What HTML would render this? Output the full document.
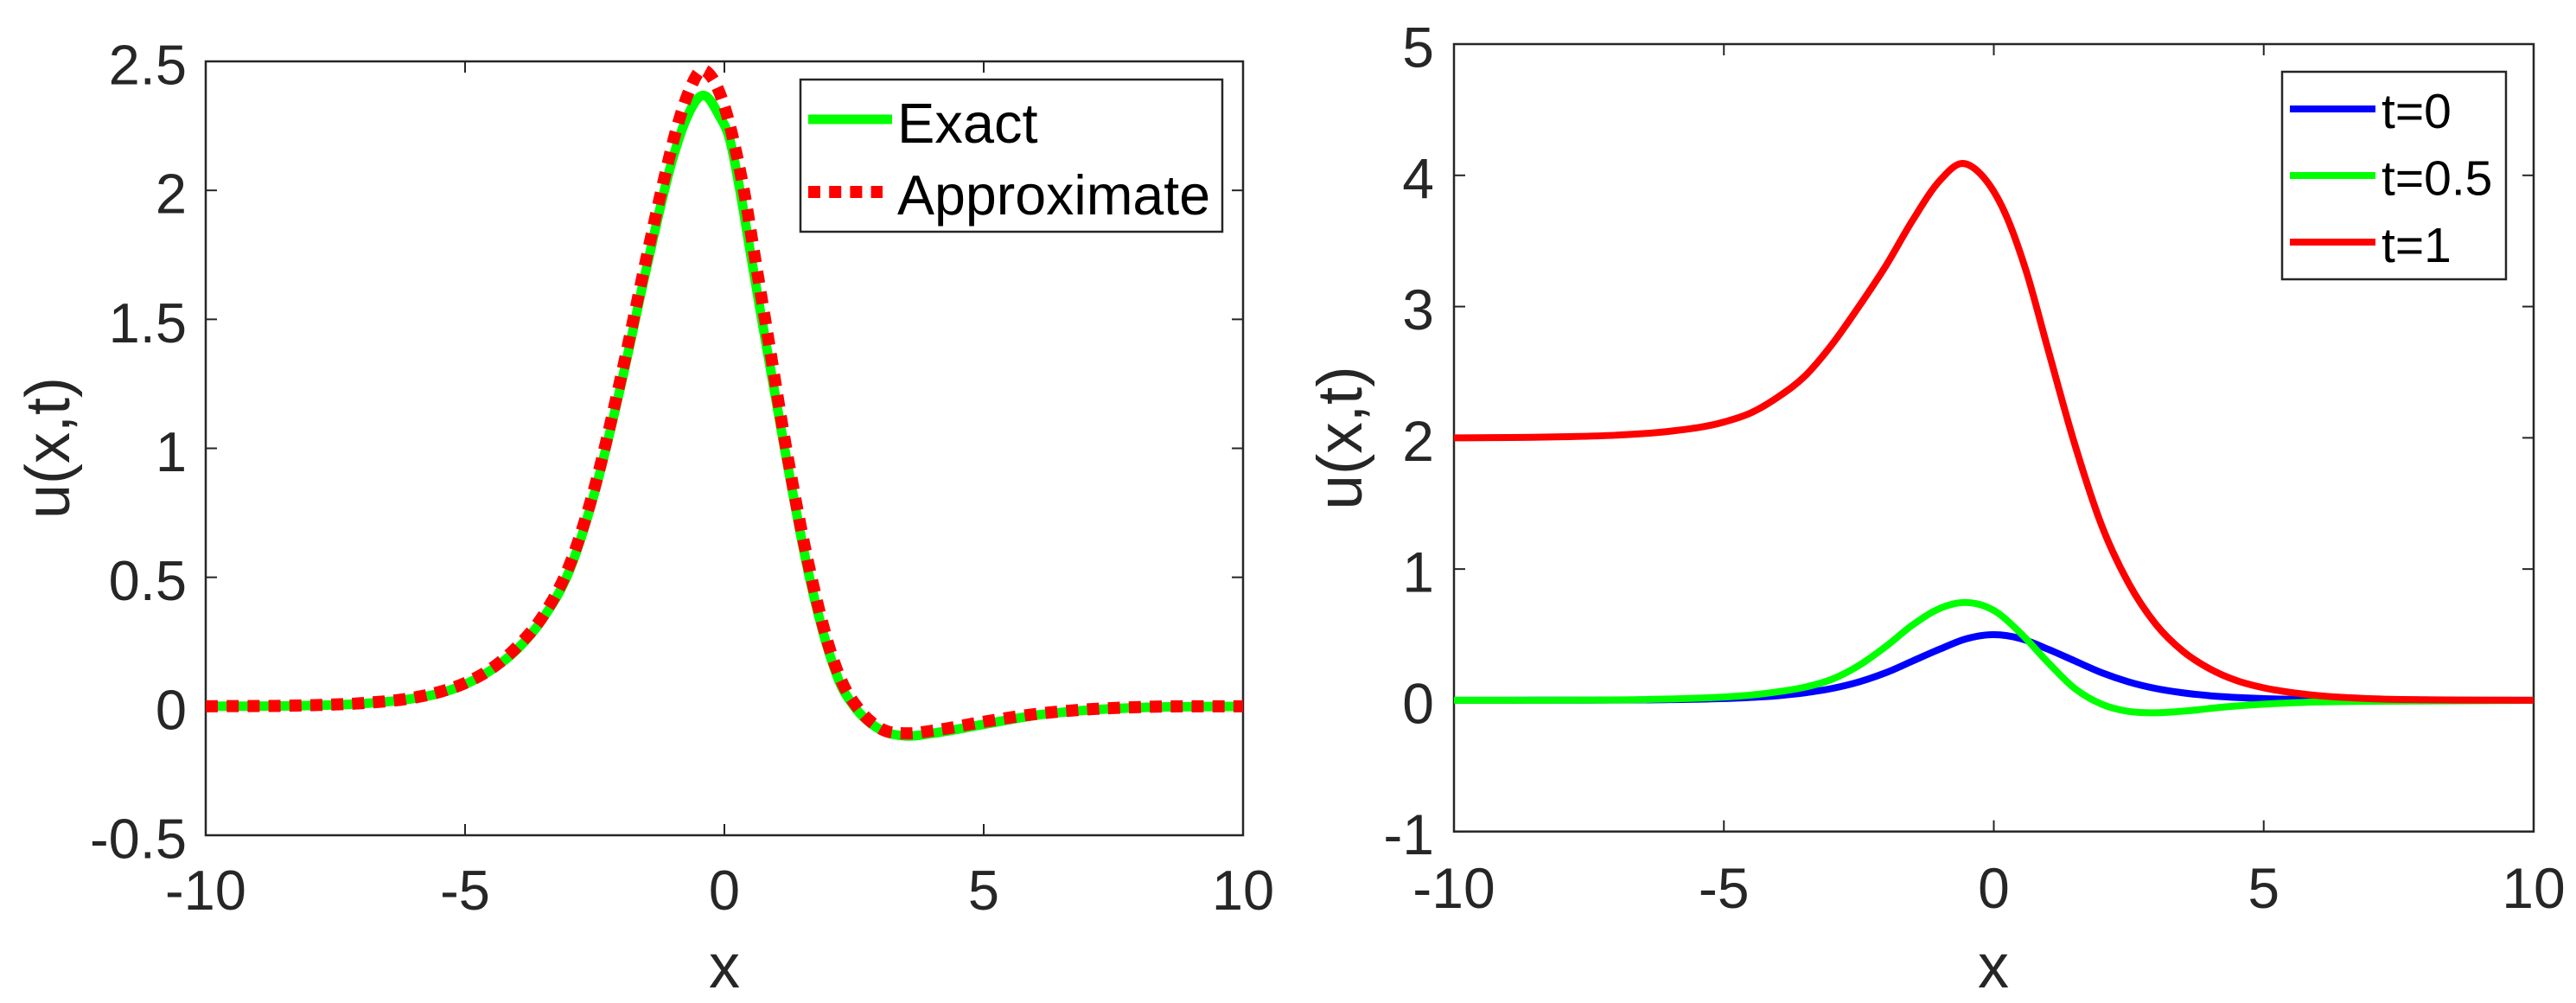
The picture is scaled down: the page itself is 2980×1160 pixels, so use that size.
<!DOCTYPE html>
<html lang="en">
<head>
<meta charset="utf-8">
<title>u(x,t) comparison charts</title>
<style>
html,body{margin:0;padding:0;background:#fff;}
body{width:2980px;height:1160px;overflow:hidden;}
svg{display:block;}
text{font-family:"Liberation Sans",Arial,sans-serif;}
.tick{font-size:65px;fill:#262626;}
.title{font-size:72px;fill:#262626;}
</style>
</head>
<body>
<svg id="root" xmlns="http://www.w3.org/2000/svg" width="2980" height="1160" viewBox="0 0 2980 1160">
  <defs>
    <clipPath id="clip-left"><rect x="238" y="71" width="1200" height="895"/></clipPath>
    <clipPath id="clip-right"><rect x="1682" y="51" width="1249" height="911"/></clipPath>
  </defs>
  <rect x="0" y="0" width="2980" height="1160" fill="#fff"/>

  <g id="left-chart">
    <g id="left-axes"></g>
    <g id="left-series" clip-path="url(#clip-left)"></g>
    <text class="title" x="838" y="1142" text-anchor="middle">x</text>
    <text class="title" transform="translate(80,518) rotate(-90)" text-anchor="middle">u(x,t)</text>
    <g>
      <rect x="926" y="92" width="488" height="176" fill="#fff" stroke="#262626" stroke-width="2.5"/>
      <line x1="935" x2="1032" y1="138" y2="138" stroke="#00ff00" stroke-width="11"/>
      <text x="1038" y="165" font-size="65" fill="#000">Exact</text>
      <line x1="935" x2="1021" y1="222" y2="222" stroke="#ff0000" stroke-width="14" stroke-dasharray="14 10.2"/>
      <text x="1038" y="248" font-size="64.5" fill="#000">Approximate</text>
    </g>
  </g>

  <g id="right-chart">
    <g id="right-axes"></g>
    <g id="right-series" clip-path="url(#clip-right)"></g>
    <text class="title" x="2306" y="1142" text-anchor="middle">x</text>
    <text class="title" transform="translate(1575,506.5) rotate(-90)" text-anchor="middle" style="font-size:73px">u(x,t)</text>
    <g>
      <rect x="2640" y="83" width="259" height="240" fill="#fff" stroke="#262626" stroke-width="2.5"/>
      <line x1="2649" x2="2748" y1="126" y2="126" stroke="#0000ff" stroke-width="8"/>
      <text x="2755" y="148" font-size="57" fill="#000">t=0</text>
      <line x1="2649" x2="2748" y1="203" y2="203" stroke="#00ff00" stroke-width="8"/>
      <text x="2755" y="225.5" font-size="57" fill="#000">t=0.5</text>
      <line x1="2649" x2="2748" y1="280" y2="280" stroke="#ff0000" stroke-width="8"/>
      <text x="2755" y="303" font-size="57" fill="#000">t=1</text>
    </g>
  </g>
</svg>

<script>
// ---- left chart data ----
const leftXTicks = [-10, -5, 0, 5, 10];
const leftYTicks = [-0.5, 0, 0.5, 1, 1.5, 2, 2.5];
const leftYTickLabels = ['-0.5', '0', '0.5', '1', '1.5', '2', '2.5'];
const exactX = [-10, -8, -7, -6, -5.5, -5, -4.5, -4, -3.5, -3, -2.5, -2, -1.5, -1, -0.75, -0.4, -0.1, 0.1, 0.3, 0.5, 0.72, 1.16, 1.64, 2.0, 2.25, 2.5, 3, 3.5, 4, 5, 6, 7, 8, 10];
const exactU = [0, 0.003, 0.01, 0.03, 0.05, 0.085, 0.14, 0.22, 0.34, 0.52, 0.83, 1.24, 1.7, 2.12, 2.27, 2.368, 2.29, 2.2, 2.0, 1.76, 1.5, 1.0, 0.5, 0.22, 0.08, 0, -0.09, -0.115, -0.105, -0.07, -0.035, -0.015, -0.005, 0];
const approxX = [-10, -8, -7, -6, -5.5, -5, -4.5, -4, -3.5, -3, -2.5, -2, -1.5, -1.19, -0.92, -0.67, -0.46, -0.25, -0.007, 0.267, 0.42, 0.54, 0.85, 1.2, 1.7, 2.05, 2.3, 2.55, 3, 3.55, 4, 5, 6, 7, 8, 10];
const approxU = [0, 0.004, 0.012, 0.033, 0.055, 0.09, 0.145, 0.23, 0.35, 0.54, 0.85, 1.27, 1.74, 2.02, 2.24, 2.39, 2.464, 2.44, 2.33, 2.11, 1.95, 1.8, 1.42, 0.99, 0.48, 0.21, 0.08, 0, -0.085, -0.105, -0.095, -0.06, -0.03, -0.012, -0.003, 0];

// ---- right chart data ----
const rightXTicks = [-10, -5, 0, 5, 10];
const rightYTicks = [-1, 0, 1, 2, 3, 4, 5];
const t0X = [-10, -8, -6, -5, -4, -3.5, -3, -2.5, -2, -1.5, -1, -0.5, 0, 0.5, 1, 1.5, 2, 2.5, 3, 3.5, 4, 5, 6, 8, 10];
const t0U = [0, 0.001, 0.005, 0.013, 0.035, 0.057, 0.09, 0.14, 0.21, 0.30, 0.39, 0.47, 0.5, 0.47, 0.39, 0.30, 0.21, 0.14, 0.09, 0.057, 0.035, 0.013, 0.005, 0.001, 0];
const t05X = [-10, -8, -6, -5, -4.5, -4, -3.5, -3, -2.5, -2, -1.5, -1, -0.49, 0, 0.5, 1, 1.5, 2, 2.5, 2.9, 3.5, 4.3, 5.6, 7.2, 8.6, 10];
const t05U = [0, 0.001, 0.01, 0.025, 0.04, 0.065, 0.1, 0.16, 0.265, 0.41, 0.575, 0.7, 0.745, 0.685, 0.51, 0.29, 0.09, -0.03, -0.085, -0.095, -0.083, -0.05, -0.018, -0.007, -0.004, 0];
const t1X = [-10, -8, -7, -6, -5, -4.5, -4, -3.5, -3, -2.5, -2, -1.5, -1, -0.6, -0.2, 0.2, 0.6, 1, 1.5, 2, 2.5, 3, 3.5, 4, 4.5, 5, 5.5, 6, 7, 8, 10];
const t1U = [2.0, 2.008, 2.02, 2.05, 2.12, 2.19, 2.31, 2.47, 2.71, 3.0, 3.31, 3.66, 3.96, 4.09, 3.99, 3.72, 3.27, 2.68, 1.95, 1.33, 0.89, 0.58, 0.375, 0.24, 0.15, 0.095, 0.06, 0.036, 0.012, 0.004, 0];

const SVG_NS = 'http://www.w3.org/2000/svg';

function makeEl(tag, attrs) {
  const node = document.createElementNS(SVG_NS, tag);
  Object.keys(attrs).forEach(function (k) { node.setAttribute(k, attrs[k]); });
  return node;
}

function linearScale(d0, d1, r0, r1) {
  return function (v) { return r0 + (v - d0) / (d1 - d0) * (r1 - r0); };
}

// Smooth C1 cubic path through data points
function curvePath(xs, ys, sx, sy) {
  const px = xs.map(sx);
  const py = ys.map(sy);
  const n = px.length;
  const d = [];
  for (let i = 0; i < n - 1; i++) d.push((py[i + 1] - py[i]) / (px[i + 1] - px[i]));
  const m = new Array(n);
  m[0] = d[0];
  m[n - 1] = d[n - 2];
  for (let i = 1; i < n - 1; i++) {
    const h0 = px[i] - px[i - 1];
    const h1 = px[i + 1] - px[i];
    m[i] = (h1 * d[i - 1] + h0 * d[i]) / (h0 + h1);
  }
  let path = 'M' + px[0].toFixed(2) + ' ' + py[0].toFixed(2);
  for (let i = 0; i < n - 1; i++) {
    const h = (px[i + 1] - px[i]) / 3;
    path += 'C' + (px[i] + h).toFixed(2) + ' ' + (py[i] + m[i] * h).toFixed(2) + ' ' +
      (px[i + 1] - h).toFixed(2) + ' ' + (py[i + 1] - m[i + 1] * h).toFixed(2) + ' ' +
      px[i + 1].toFixed(2) + ' ' + py[i + 1].toFixed(2);
  }
  return path;
}

function drawAxes(host, box, sx, sy, xTicks, yTicks, yLabels, labelCfg) {
  const frame = makeEl('rect', { x: box.l, y: box.t, width: box.r - box.l, height: box.b - box.t, fill: 'none', stroke: '#262626', 'stroke-width': 2.5 });
  
  
  host.appendChild(frame);

  xTicks.forEach(function (v) {
    const x = sx(v);
    const bottomTick = makeEl('line', { x1: x, x2: x, y1: box.b, y2: box.b - 13, stroke: '#262626', 'stroke-width': 2 });
    
    
    host.appendChild(bottomTick);
    const topTick = makeEl('line', { x1: x, x2: x, y1: box.t, y2: box.t + 13, stroke: '#262626', 'stroke-width': 2 });
    
    
    host.appendChild(topTick);
    const label = makeEl('text', { x: x, y: labelCfg.xBase, 'text-anchor': 'middle', class: 'tick', style: 'font-size:' + labelCfg.size + 'px' });
    label.textContent = String(v);
    
    
    host.appendChild(label);
  });

  yTicks.forEach(function (v, i) {
    const y = sy(v);
    const leftTick = makeEl('line', { x1: box.l, x2: box.l + 13, y1: y, y2: y, stroke: '#262626', 'stroke-width': 2 });
    
    
    host.appendChild(leftTick);
    const rightTick = makeEl('line', { x1: box.r, x2: box.r - 13, y1: y, y2: y, stroke: '#262626', 'stroke-width': 2 });
    
    
    host.appendChild(rightTick);
    const label = makeEl('text', { x: labelCfg.yRight, y: y + 26.5, 'text-anchor': 'end', class: 'tick', style: 'font-size:' + labelCfg.size + 'px' });
    label.textContent = yLabels[i];
    
    
    host.appendChild(label);
  });
}

// ---- left chart ----
const leftBox = { l: 238, r: 1438, t: 71, b: 966 };
const leftSX = linearScale(-10, 10, leftBox.l, leftBox.r);
const leftSY = linearScale(-0.5, 2.5, leftBox.b, leftBox.t);
drawAxes(document.getElementById('left-axes'), leftBox, leftSX, leftSY, leftXTicks, leftYTicks, leftYTickLabels, { xBase: 1052, yRight: 216, size: 65 });

const leftSeries = document.getElementById('left-series');
const exactLine = makeEl('path', { d: curvePath(exactX, exactU, leftSX, leftSY), fill: 'none', stroke: '#00ff00', 'stroke-width': 11 });


leftSeries.appendChild(exactLine);
const approxLine = makeEl('path', { d: curvePath(approxX, approxU, leftSX, leftSY), fill: 'none', stroke: '#ff0000', 'stroke-width': 14, 'stroke-dasharray': '14 10.2' });


leftSeries.appendChild(approxLine);

// ---- right chart ----
const rightBox = { l: 1682, r: 2931, t: 51, b: 961.7 };
const rightSX = linearScale(-10, 10, rightBox.l, rightBox.r);
const rightSY = linearScale(-1, 5, rightBox.b, rightBox.t);
drawAxes(document.getElementById('right-axes'), rightBox, rightSX, rightSY, rightXTicks, rightYTicks, rightYTicks.map(String), { xBase: 1050, yRight: 1659, size: 66 });

const rightSeries = document.getElementById('right-series');
const t0Line = makeEl('path', { d: curvePath(t0X, t0U, rightSX, rightSY), fill: 'none', stroke: '#0000ff', 'stroke-width': 8 });


rightSeries.appendChild(t0Line);
const t05Line = makeEl('path', { d: curvePath(t05X, t05U, rightSX, rightSY), fill: 'none', stroke: '#00ff00', 'stroke-width': 8 });


rightSeries.appendChild(t05Line);
const t1Line = makeEl('path', { d: curvePath(t1X, t1U, rightSX, rightSY), fill: 'none', stroke: '#ff0000', 'stroke-width': 8 });


rightSeries.appendChild(t1Line);
</script>
</body>
</html>
